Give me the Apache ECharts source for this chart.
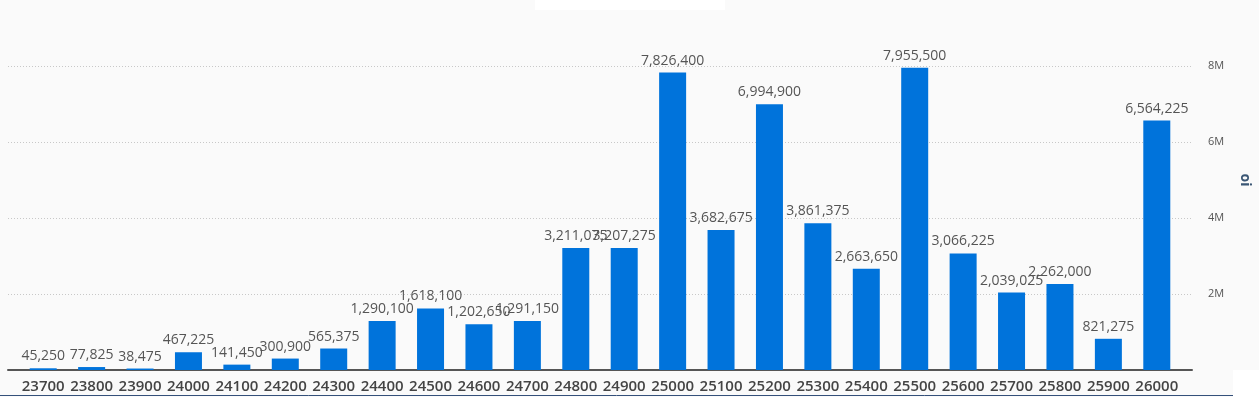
<!DOCTYPE html>
<html>
<head>
<meta charset="utf-8">
<script src="https://cdn.jsdelivr.net/npm/echarts@6/dist/echarts.min.js"></script>
<style>
html,body{margin:0;padding:0;background:#fafafa;}
#chart{width:1259px;height:397px;}
</style>
</head>
<body>
<div id="chart"></div>
<script>
const categories = ['23700','23800','23900','24000','24100','24200','24300','24400','24500','24600','24700','24800','24900','25000','25100','25200','25300','25400','25500','25600','25700','25800','25900','26000'];
const oiValues = [45250,77825,38475,467225,141450,300900,565375,1290100,1618100,1202650,1291150,3211075,3207275,7826400,3682675,6994900,3861375,2663650,7955500,3066225,2039025,2262000,821275,6564225];
const yTicks = {min:0, max:8000000, interval:2000000};

const chart = echarts.init(document.getElementById('chart'));
const fmt = v => v.toLocaleString('en-US');
chart.setOption({
  backgroundColor:'#fafafa',
  animation:false,
  grid:[
    {left:8,right:67,top:66,bottom:27},
    {left:19,right:78,top:66,bottom:27}
  ],
  xAxis:[
    {gridIndex:0,type:'value',min:0,max:1,
      axisLine:{show:true,onZero:false,lineStyle:{color:'#555',width:2}},
      axisTick:{show:false},axisLabel:{show:false},splitLine:{show:false}},
    {gridIndex:1,type:'category',data:categories,
      axisLine:{show:false},
      axisTick:{show:false},
      axisLabel:{color:'#444',fontSize:15,fontWeight:600,fontFamily:'Open Sans',margin:9,interval:0}}
  ],
  yAxis:[
    {gridIndex:0,type:'value',position:'right',
      min:yTicks.min,max:yTicks.max,interval:yTicks.interval,
      axisLine:{show:false},
      axisTick:{show:false},
      splitLine:{lineStyle:{color:'#c8c8c8',type:[1,2],width:1}},
      axisLabel:{color:'#555',fontSize:11,fontFamily:'Open Sans',margin:16,
        formatter:v=> v===0 ? '' : (v/1000000)+'M'}},
    {gridIndex:1,type:'value',show:false,
      min:yTicks.min,max:yTicks.max,interval:yTicks.interval,splitLine:{show:false}}
  ],
  graphic:[
    {type:'rect',shape:{x:535,y:0,width:190,height:10},style:{fill:'#ffffff'}},
    {type:'rect',shape:{x:1233,y:370,width:26,height:27},style:{fill:'#ffffff'}},
    {type:'line',shape:{x1:0,y1:395.5,x2:1233,y2:395.5},style:{stroke:'#34507a',lineWidth:1}},
    {type:'text',x:1245,y:180,rotation:-Math.PI/2,
      style:{text:'oi',fill:'#3a5674',font:'bold 14px "Open Sans"',align:'center',verticalAlign:'middle'}}
  ],
  series:[{
    type:'bar',
    xAxisIndex:1,yAxisIndex:1,
    data:oiValues,
    barWidth:27,
    itemStyle:{color:'#0073db'},
    label:{show:true,position:'top',distance:5,color:'#555',fontSize:14,fontFamily:'Open Sans',
      formatter:p=>fmt(p.value)}
  }]
});
</script>
</body>
</html>
